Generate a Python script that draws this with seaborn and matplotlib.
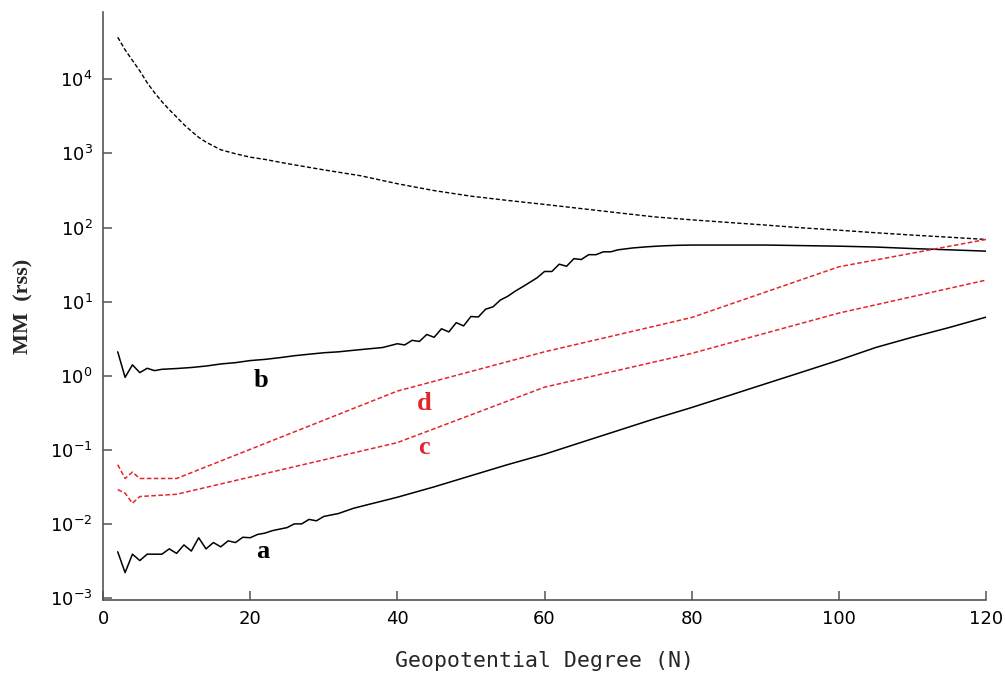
import seaborn as sns
import matplotlib.pyplot as plt
import matplotlib.ticker as mticker

sns.set_style("ticks")
plt.rcParams["font.family"] = ["DejaVu Sans"]
plt.rcParams["mathtext.fontset"] = "dejavusans"

# upper dotted black curve
deg_top = [2, 3, 4, 5, 6, 7, 8, 9, 10, 11, 12, 13, 14, 16, 18, 20, 22, 25, 30, 35,
           40, 45, 50, 55, 60, 65, 70, 75, 80, 85, 90, 95, 100, 105, 110, 115, 120]
top_vals = [37000, 25000, 18000, 13000, 9000, 6600, 5000, 3900, 3100, 2450, 2000, 1650,
            1420, 1120, 990, 890, 830, 730, 600, 500, 390, 315, 265, 232, 205, 180,
            158, 139, 127, 117, 108, 99, 92, 85, 79, 74, 69]

# curve b (solid black)
deg_b = [2, 3, 4, 5, 6, 7, 8, 10, 12, 14, 16, 18, 20, 22, 24, 26, 28, 30, 32, 34, 36, 38,
         40, 41, 42, 43, 44, 45, 46, 47, 48, 49, 50, 51, 52, 53, 54, 55, 56, 57, 58, 59,
         60, 61, 62, 63, 64, 65, 66, 67, 68, 69, 70, 72, 74, 76, 78, 80, 85, 90, 95,
         100, 105, 110, 115, 120]
b_vals = [2.1, 0.95, 1.4, 1.1, 1.26, 1.17, 1.22, 1.25, 1.29, 1.35, 1.44, 1.5, 1.6, 1.66,
          1.75, 1.86, 1.95, 2.04, 2.1, 2.2, 2.3, 2.4,
          2.7, 2.6, 3.0, 2.9, 3.6, 3.3, 4.3, 3.9, 5.2, 4.7, 6.3, 6.2, 7.9, 8.5, 10.5,
          11.8, 13.8, 15.8, 18.2, 21, 25.5, 25.5, 32, 30, 38, 37, 43, 43, 47, 47, 50,
          53, 55, 56.5, 57.5, 58, 58, 58, 57, 56, 54.5, 52, 50, 48]

# curve a (solid black)
deg_a = [2, 3, 4, 5, 6, 7, 8, 9, 10, 11, 12, 13, 14, 15, 16, 17, 18, 19, 20, 21, 22, 23,
         24, 25, 26, 27, 28, 29, 30, 32, 34, 36, 38, 40, 45, 50, 55, 60, 65, 70, 75,
         80, 85, 90, 95, 100, 105, 110, 115, 120]
a_vals = [0.0042, 0.0022, 0.0039, 0.0032, 0.0039, 0.0039, 0.0039, 0.0046, 0.0040,
          0.0052, 0.0043, 0.0065, 0.0046, 0.0056, 0.0049, 0.0059, 0.0056, 0.0066,
          0.0065, 0.0072, 0.0075, 0.0081, 0.0085, 0.0089, 0.0100, 0.0100, 0.0115,
          0.0110, 0.0126, 0.0138, 0.0162, 0.0182, 0.0204, 0.0229, 0.0316, 0.0447,
          0.0631, 0.0871, 0.126, 0.182, 0.263, 0.372, 0.537, 0.776, 1.12, 1.62, 2.40,
          3.31, 4.47, 6.17]

# red dashed curves
deg_d = [2, 3, 4, 5, 10, 40, 60, 80, 100, 120]
d_vals = [0.063, 0.041, 0.050, 0.041, 0.041, 0.62, 2.1, 6.1, 29.5, 69]
deg_c = [2, 3, 4, 5, 10, 40, 60, 80, 100, 120]
c_vals = [0.029, 0.026, 0.019, 0.0234, 0.0251, 0.125, 0.70, 2.0, 7.0, 19.5]

red = "#e3262b"
dash = (0, (3, 1.6))

fig = plt.figure(figsize=(10.05, 6.73), dpi=100)
ax = fig.add_axes([0.1025, 0.1085, 0.8786, 0.8737])

sns.lineplot(x=deg_top, y=top_vals, ax=ax, color="black", linewidth=1.0, linestyle=dash)
sns.lineplot(x=deg_b, y=b_vals, ax=ax, color="black", linewidth=1.1)
sns.lineplot(x=deg_a, y=a_vals, ax=ax, color="black", linewidth=1.1)
sns.lineplot(x=deg_d, y=d_vals, ax=ax, color=red, linewidth=1.1, linestyle=dash)
sns.lineplot(x=deg_c, y=c_vals, ax=ax, color=red, linewidth=1.1, linestyle=dash)

ax.set_yscale("log")
ax.set_xlim(0, 120)
ax.set_ylim(10 ** -3.027, 10 ** 4.909)
ax.set_xticks([0, 20, 40, 60, 80, 100, 120])
ax.set_yticks([10.0 ** k for k in range(-3, 5)])
ax.yaxis.set_major_formatter(mticker.LogFormatterMathtext())
ax.yaxis.set_minor_locator(mticker.NullLocator())

for s in ["top", "right"]:
    ax.spines[s].set_visible(False)
for s in ["left", "bottom"]:
    ax.spines[s].set_color("#555555")
    ax.spines[s].set_linewidth(1.2)
ax.tick_params(axis="both", direction="in", length=6.5, width=1.1, color="#555555",
               labelsize=13, labelcolor="black")
ax.tick_params(axis="x", pad=7)
ax.tick_params(axis="y", pad=7.5)

lab_font = {"family": "Liberation Serif", "weight": "bold", "size": 19}
ax.text(21.5, 0.71, "b", ha="center", va="baseline", color="black", fontdict=lab_font)
ax.text(21.75, 0.00343, "a", ha="center", va="baseline", color="black", fontdict=lab_font)
ax.text(43.7, 0.344, "d", ha="center", va="baseline", color=red, fontdict=lab_font)
ax.text(43.6, 0.0878, "c", ha="center", va="baseline", color=red, fontdict=lab_font)

ax.set_ylabel("MM  (rss)", family="Liberation Serif", weight="bold", fontsize=16)
ax.yaxis.set_label_coords(-0.079, 0.5)
ax.set_xlabel("Geopotential Degree (N)", family="DejaVu Sans Mono", fontsize=15.5)
ax.xaxis.set_label_coords(0.5, -0.087)

plt.savefig("out.png", dpi=100)
